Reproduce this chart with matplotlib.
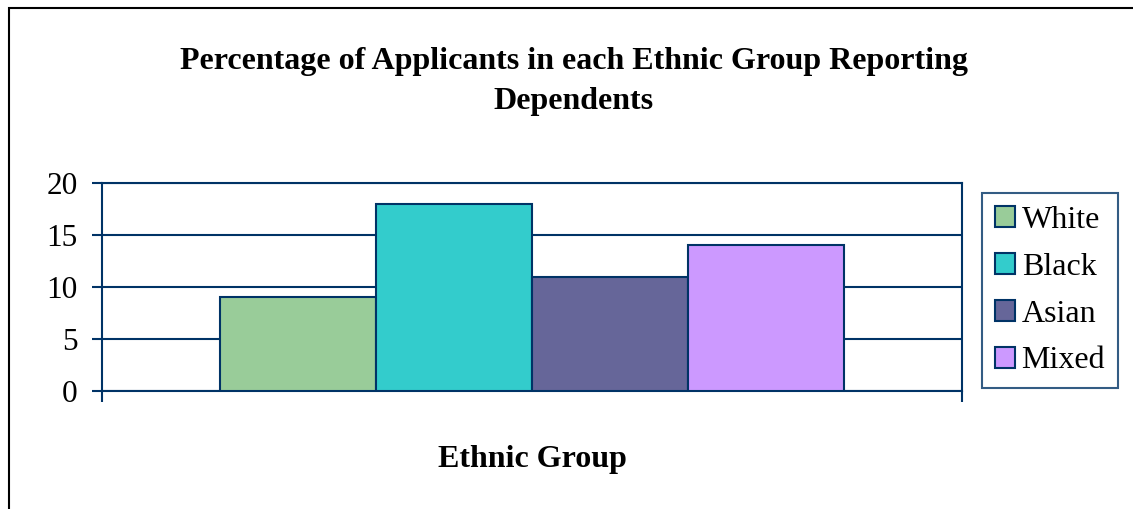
import matplotlib.pyplot as plt
from matplotlib.patches import Rectangle

groups = ['White', 'Black', 'Asian', 'Mixed']
percent = [9, 18, 11, 14]
colors = ['#99cc99', '#33cccc', '#666699', '#cc99ff']
navy = '#003366'

plt.rcParams['font.family'] = ['Liberation Serif', 'DejaVu Serif']

W, H = 1133, 509
fig = plt.figure(figsize=(W / 100, H / 100), dpi=100)

# outer chart frame (left/top visible, runs off the right and bottom)
fig.patches.append(Rectangle((9 / W, -0.1), 1.2, (H - 8) / H + 0.1,
                             transform=fig.transFigure, fill=False,
                             edgecolor='black', linewidth=1.5))

ax = fig.add_axes([102 / W, (H - 391) / H, 860 / W, 208 / H])

bw = 0.1814
for i, (g, v, c) in enumerate(zip(groups, percent, colors)):
    ax.bar((i - 1.5) * bw, v, width=bw, color=c, edgecolor=navy,
           linewidth=1.5, label=g, zorder=3)

ax.set_xlim(-0.5, 0.5)
ax.set_ylim(0, 20)
ax.set_yticks([0, 5, 10, 15, 20])
ax.set_xticks([-0.5, 0.5])
ax.set_xticklabels([])
ax.tick_params(axis='y', direction='out', length=7.5, width=1.5,
               color=navy, labelsize=22.5, pad=10)
ax.tick_params(axis='x', direction='out', length=8, width=1.5, color=navy)
ax.yaxis.grid(True, color=navy, linewidth=1.5, zorder=0)
ax.set_axisbelow(True)
for s in ax.spines.values():
    s.set_color(navy)
    s.set_linewidth(1.5)

fig.text(532 / W, 1 - 459 / H, 'Ethnic Group', ha='center', va='center',
         fontsize=23, fontweight='bold')

fig.text(574 / W, 1 - 61 / H,
         'Percentage of Applicants in each Ethnic Group Reporting',
         ha='center', va='center', fontsize=23, fontweight='bold')
fig.text(574 / W, 1 - 101 / H, 'Dependents',
         ha='center', va='center', fontsize=23, fontweight='bold')

leg = fig.legend(loc='upper left', bbox_to_anchor=(982 / W, 1 - 193 / H),
                 fontsize=23, frameon=True, fancybox=False,
                 handlelength=0.62, handleheight=0.62, handletextpad=0.22,
                 labelspacing=0.56, borderpad=0.4, borderaxespad=0)
leg.get_frame().set_edgecolor(navy)
leg.get_frame().set_linewidth(1.5)

fig.savefig('out.png', dpi=100)
